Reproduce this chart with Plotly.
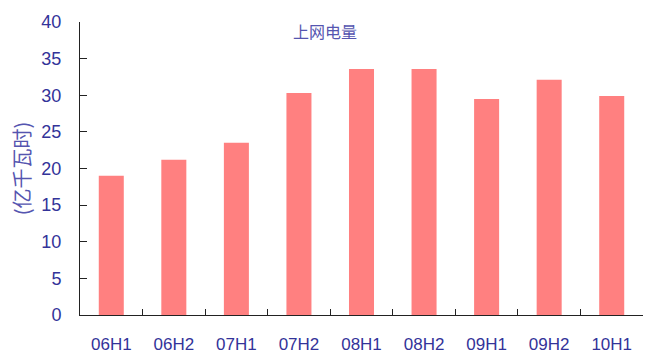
import plotly.graph_objects as go

categories = ["06H1", "06H2", "07H1", "07H2", "08H1", "08H2", "09H1", "09H2", "10H1"]
values = [19.0, 21.2, 23.5, 30.3, 33.6, 33.6, 29.5, 32.1, 29.9]
y_ticks = [0, 5, 10, 15, 20, 25, 30, 35, 40]

label_color = "#333399"

fig = go.Figure()
fig.add_trace(go.Bar(x=categories, y=values, marker=dict(color="#FF8080", line=dict(width=0)),
                     showlegend=False))

fig.update_layout(
    width=645, height=356,
    margin=dict(l=80, r=2, t=22, b=41),
    paper_bgcolor="white", plot_bgcolor="white",
    bargap=0.6,
    font=dict(family="Liberation Sans, Arial, sans-serif", size=17, color=label_color),
    annotations=[dict(text="上网电量", x=0.435, y=1.0, xref="paper", yref="paper",
                      xanchor="center", yanchor="top", showarrow=False, yshift=5,
                      font=dict(family="Noto Sans CJK SC", size=16, color="#5555b0"))],
)
fig.update_xaxes(
    showline=True, linecolor="#222222", linewidth=1,
    ticks="inside", tickson="boundaries", ticklen=6, tickcolor="#222222",
    showgrid=False, tickfont=dict(size=17, color=label_color),
    ticklabelstandoff=14,
)
fig.update_yaxes(
    range=[0, 40], tickvals=y_ticks, showline=True, linecolor="#222222", linewidth=1,
    ticks="inside", ticklen=7, tickcolor="#222222", showgrid=False, zeroline=False,
    tickfont=dict(size=18, color=label_color), ticklabelstandoff=14,
    title=dict(text="(亿千瓦时)", font=dict(family="Noto Sans CJK SC", size=20, color="#5555b0"),
               standoff=5),
)

fig.write_html("out.html")
